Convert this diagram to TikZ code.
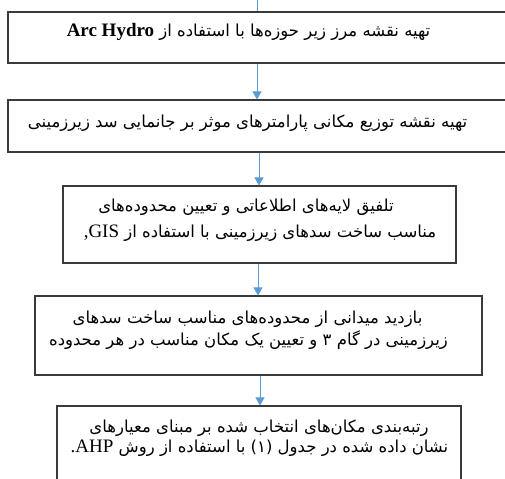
\documentclass[tikz,border=0pt]{standalone}
\usepackage{fontspec}
\setmainfont{Liberation Serif}
\newfontfamily\ar[Script=Arabic]{DejaVu Sans}
\TeXXeTstate=1
\usetikzlibrary{arrows.meta}
\definecolor{boxline}{HTML}{3A3A3A}
\definecolor{arrowblue}{HTML}{5B9BD5}
\newcommand{\lat}[1]{\beginL{\fontsize{19bp}{21bp}\rmfamily #1}\endL}
\begin{document}
\begin{tikzpicture}[x=1bp,y=-1bp,
  box/.style={draw=boxline, line width=1.1bp, inner sep=0pt, fill=none},
  txt/.style={inner sep=0pt, font=\fontsize{16.5bp}{18bp}\selectfont\ar},
  arr/.style={draw=arrowblue, line width=0.8bp, -{Triangle[width=9bp,length=8bp]}},
  stub/.style={draw=arrowblue, line width=0.8bp}]
\useasboundingbox (0,0) rectangle (505,479);
\clip (0,0) rectangle (505,479);
% boxes
\node[box, minimum width=507bp, minimum height=51bp] (b1) at (261.5,37.5) {};
\node[box, minimum width=507bp, minimum height=52bp] (b2) at (261.5,126) {};
\node[box, minimum width=393bp, minimum height=77bp] (b3) at (259.5,224.5) {};
\node[box, minimum width=447bp, minimum height=79bp] (b4) at (258.5,335.5) {};
\node[box, minimum width=404bp, minimum height=94bp] (b5) at (259,453) {};
% texts
\node[txt] (t1) at (248.5,32) {\beginR تهیه نقشه مرز زیر حوزه‌ها با استفاده از \lat{\bfseries Arc Hydro}\endR};
\node[txt] (t2) at (247.5,123) {\beginR تهیه نقشه توزیع مکانی پارامترهای موثر بر جانمایی سد زیرزمینی\endR};
\node[txt] (t3a) at (246,207) {\beginR تلفیق لایه‌های اطلاعاتی و تعیین محدوده‌های\endR};
\node[txt] (t3b) at (260,233) {\beginR مناسب ساخت سدهای زیرزمینی با استفاده از \lat{,GIS}\endR};
\node[txt] (t4a) at (247.5,319) {\beginR بازدید میدانی از محدوده‌های مناسب ساخت سدهای\endR};
\node[txt] (t4b) at (248.5,340) {\beginR زیرزمینی در گام ۳ و تعیین یک مکان مناسب در هر محدوده\endR};
\node[txt] (t5a) at (259,428) {\beginR رتبه‌بندی مکان‌های انتخاب شده بر مبنای معیارهای\endR};
\node[txt] (t5b) at (259.5,448) {\beginR نشان داده شده در جدول (۱) با استفاده از روش \lat{.AHP}\endR};
% connector positions
\coordinate (c0) at (257,0);
\coordinate (c1) at (257,0);
\coordinate (c2) at (259,0);
\coordinate (c3) at (258,0);
\coordinate (c4) at (260,0);
\draw[stub] (c0) -- (b1.north -| c0);
\draw[arr] (b1.south -| c1) -- (b2.north -| c1);
\draw[arr] (b2.south -| c2) -- (b3.north -| c2);
\draw[arr] (b3.south -| c3) -- (b4.north -| c3);
\draw[arr] (b4.south -| c4) -- (b5.north -| c4);
\end{tikzpicture}
\end{document}
